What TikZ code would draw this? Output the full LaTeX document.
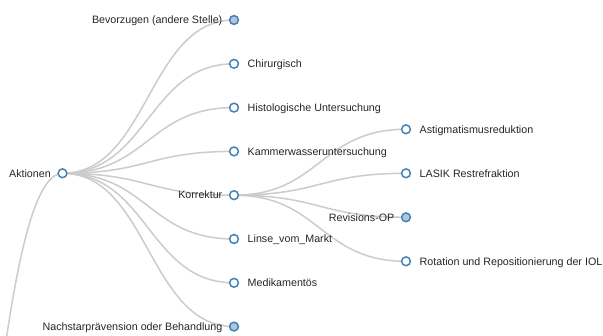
\documentclass[tikz,border=0pt]{standalone}
\usepackage{fontspec}
\setmainfont{Liberation Sans}
\usetikzlibrary{calc,backgrounds}
\definecolor{steel}{HTML}{4682B4}
\definecolor{lsteel}{HTML}{B0C4DE}
\definecolor{linkc}{HTML}{CCCCCC}
\definecolor{txt}{HTML}{262626}
\newcommand\mydlink[2]{\draw[link] let \p1=(#1),\p2=(#2) in
  (\p1) .. controls ({(\x1+\x2)/2},\y1) and ({(\x1+\x2)/2},\y2) .. (\p2);}
\begin{document}
\begin{tikzpicture}[x=1pt,y=-1pt,
  leaf/.style={circle,draw=steel,line width=1.5pt,fill=white,minimum size=8.8pt,inner sep=0pt},
  coll/.style={leaf,fill=lsteel},
  lbl/.style={font=\fontsize{10.7}{12.7}\selectfont,text=txt,inner sep=0pt},
  rlbl/.style={lbl,anchor=base west,xshift=13.5pt,yshift=-3.75pt},
  llbl/.style={lbl,anchor=base east,xshift=-11.5pt,yshift=-3.75pt},
  link/.style={draw=linkc,line width=1.5pt}
]
\useasboundingbox (0,0) rectangle (603,336);
% root off-canvas
\coordinate (root) at (-108,1009);
% nodes
\node[leaf] (a) at (62.5,173.3) {};
\node[coll] (b1) at (234,20) {};
\node[leaf] (b2) at (234,63.8) {};
\node[leaf] (b3) at (234,107.6) {};
\node[leaf] (b4) at (234,151.4) {};
\node[leaf] (b5) at (234,195.2) {};
\node[leaf] (b6) at (234,239) {};
\node[leaf] (b7) at (234,282.8) {};
\node[coll] (b8) at (234,326.6) {};
\node[leaf] (c1) at (406,129.3) {};
\node[leaf] (c2) at (406,173.3) {};
\node[coll] (c3) at (406,217.3) {};
\node[leaf] (c4) at (406,261.3) {};
% labels
\node[llbl] (ta) at (a.center) {Aktionen};
\node[llbl] (tb1) at (b1.center) {Bevorzugen (andere Stelle)};
\node[rlbl] (tb2) at (b2.center) {Chirurgisch};
\node[rlbl] (tb3) at (b3.center) {Histologische Untersuchung};
\node[rlbl] (tb4) at (b4.center) {Kammerwasseruntersuchung};
\node[llbl] (tb5) at (b5.center) {Korrektur};
\node[rlbl] (tb6) at (b6.center) {Linse\_vom\_Markt};
\node[rlbl] (tb7) at (b7.center) {Medikamentös};
\node[llbl] (tb8) at (b8.center) {Nachstarprävension oder Behandlung};
\node[rlbl] (tc1) at (c1.center) {Astigmatismusreduktion};
\node[rlbl] (tc2) at (c2.center) {LASIK Restrefraktion};
\node[llbl] (tc3) at (c3.center) {Revisions-OP};
\node[rlbl] (tc4) at (c4.center) {Rotation und Repositionierung der IOL};
% links
\begin{scope}[on background layer]
  \fill[white] (0,0) rectangle (603,336);
  \clip (0,0) rectangle (603,336);
  \mydlink{root}{a.center}
  \mydlink{a.center}{b1.center}
  \mydlink{a.center}{b2.center}
  \mydlink{a.center}{b3.center}
  \mydlink{a.center}{b4.center}
  \mydlink{a.center}{b5.center}
  \mydlink{a.center}{b6.center}
  \mydlink{a.center}{b7.center}
  \mydlink{a.center}{b8.center}
  \mydlink{b5.center}{c1.center}
  \mydlink{b5.center}{c2.center}
  \mydlink{b5.center}{c3.center}
  \mydlink{b5.center}{c4.center}
\end{scope}
\end{tikzpicture}
\end{document}
